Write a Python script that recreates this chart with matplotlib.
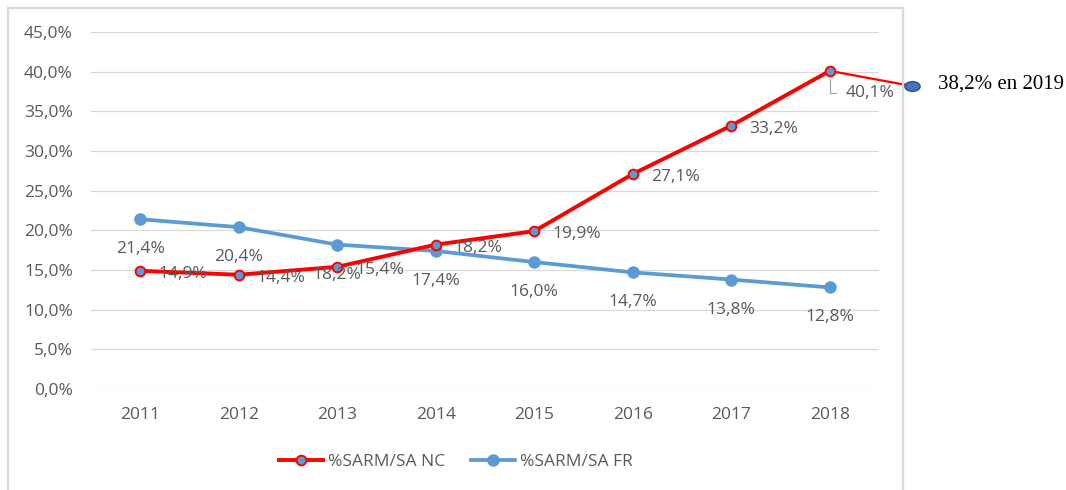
import matplotlib
matplotlib.use("Agg")
import matplotlib.pyplot as plt
from matplotlib.patches import Rectangle
from matplotlib.path import Path
from matplotlib.transforms import Affine2D
from matplotlib.ticker import FuncFormatter

# ---- data ----
years = ["2011", "2012", "2013", "2014", "2015", "2016", "2017", "2018"]
sarm_nc = [14.9, 14.4, 15.4, 18.2, 19.9, 27.1, 33.2, 40.1]
sarm_fr = [21.4, 20.4, 18.2, 17.4, 16.0, 14.7, 13.8, 12.8]
nc_2019 = 38.2
label_2019 = "38,2% en 2019"
series_names = ["%SARM/SA NC", "%SARM/SA FR"]
y_ticks = [0, 5, 10, 15, 20, 25, 30, 35, 40, 45]

RED = "#FF0000"
BLUE = "#5B9BD5"
GRAY = "#595959"
GRID = "#D9D9D9"

plt.rcParams["font.family"] = ["Open Sans", "DejaVu Sans"]
FS = 12.5

W, H = 1066, 490
fig = plt.figure(figsize=(W / 100, H / 100), dpi=100)

# outer frame
fig.patches.append(Rectangle((8 / W, -0.05), (903 - 8) / W, 1.05 - 8 / H,
                             transform=fig.transFigure, fill=False,
                             edgecolor=GRID, linewidth=1.6))

ax = fig.add_axes([91 / W, 1 - 389 / H, (879 - 91) / W, (389 - 32) / H])
x = list(range(len(years)))
ax.set_xlim(-0.5, len(years) - 0.5)
ax.set_ylim(0, 45)
ax.set_yticks(y_ticks)
ax.yaxis.set_major_formatter(FuncFormatter(lambda v, p: f"{v:.1f}%".replace(".", ",")))
ax.set_xticks(x)
ax.set_xticklabels(years)
ax.tick_params(axis="both", length=0, labelsize=FS, labelcolor=GRAY)
ax.tick_params(axis="x", pad=13)
ax.tick_params(axis="y", pad=13)
for s in ax.spines.values():
    s.set_visible(False)
ax.grid(axis="y", color=GRID, linewidth=0.9)
ax.set_axisbelow(True)

# extension to 2019 annotation
x2019 = len(years) - 1 + 0.83
ax.plot([x[-1], x2019], [sarm_nc[-1], nc_2019], color=RED, lw=1.6,
        clip_on=False, zorder=3)
ell = Path.unit_circle().transformed(Affine2D().scale(1.0, 0.64))
ax.plot([x2019], [nc_2019], marker=ell, markersize=11, color="#4472C4",
        markeredgecolor="#2F528F", markeredgewidth=1.0, clip_on=False,
        zorder=5, linestyle="none")
ax.annotate(label_2019, xy=(x2019, nc_2019), xytext=(26, 2),
            textcoords="offset pixels", ha="left", va="center",
            fontsize=15, family="Liberation Serif", color="black",
            annotation_clip=False)

l_fr, = ax.plot(x, sarm_fr, color=BLUE, lw=2.7, marker="o", markersize=8,
                markerfacecolor=BLUE, markeredgecolor=BLUE, zorder=4,
                label=series_names[1])
l_nc, = ax.plot(x, sarm_nc, color=RED, lw=2.8, marker="o", markersize=7,
                markerfacecolor=BLUE, markeredgecolor=RED, markeredgewidth=1.4,
                zorder=4.5, label=series_names[0])

def fmt(v):
    return f"{v:.1f}%".replace(".", ",")

for xi, v in zip(x[:-1], sarm_nc[:-1]):
    ax.annotate(fmt(v), xy=(xi, v), xytext=(18, -3), textcoords="offset pixels",
                ha="left", va="center", fontsize=FS, color=GRAY, zorder=6)
# last NC label with leader line
ax.annotate(fmt(sarm_nc[-1]), xy=(x[-1], sarm_nc[-1]), xytext=(16, -22),
            textcoords="offset pixels", ha="left", va="center", fontsize=FS,
            color=GRAY, zorder=6,
            arrowprops=dict(arrowstyle="-", color="#A6A6A6", lw=0.9,
                            shrinkA=5, shrinkB=6, relpos=(0, 0.5),
                            connectionstyle="angle,angleA=0,angleB=90,rad=0"))
for xi, v in zip(x, sarm_fr):
    ax.annotate(fmt(v), xy=(xi, v), xytext=(0, -30), textcoords="offset pixels",
                ha="center", va="center", fontsize=FS, color=GRAY, zorder=6)

leg = fig.legend(handles=[l_nc, l_fr], loc="center",
                 bbox_to_anchor=(456 / W, 1 - 462 / H), ncol=2, frameon=False,
                 fontsize=FS, handlelength=2.5, handletextpad=0.3,
                 columnspacing=1.5)
for t in leg.get_texts():
    t.set_color(GRAY)

fig.savefig("out.png", dpi=100)
